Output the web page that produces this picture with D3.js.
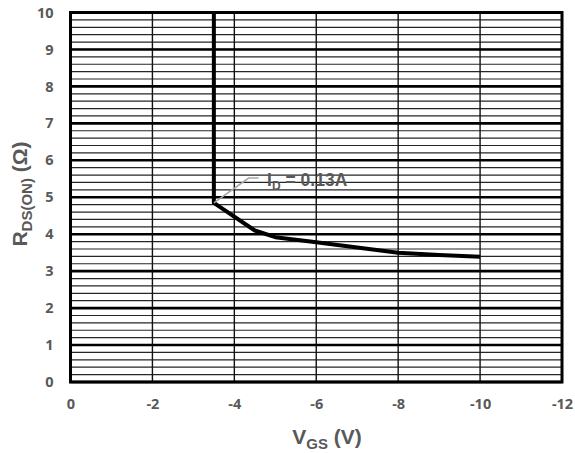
<!DOCTYPE html>
<html>
<head>
<meta charset="utf-8">
<script src="https://cdn.jsdelivr.net/npm/d3@7"></script>
<style>
  body { margin: 0; background: #fff; }
  svg text { font-family: "Liberation Sans", Arial, sans-serif; font-weight: bold; fill: #595959; }
  .tick text { font-family: "Open Sans", Lato, sans-serif; font-weight: 700; }
</style>
</head>
<body>
<div id="root"></div>
<script>
const w = 575;
const h = 453;
const margin = { top: 12.5, bottom: 71, left: 70.5, right: 13 };

// R_DS(ON) vs V_GS, I_D = 0.13A
const vgs = [-3.5, -3.5, -4.5, -5, -6, -7, -8, -9, -10];
const rds = [10, 4.85, 4.1, 3.92, 3.78, 3.64, 3.5, 3.44, 3.39];

const xTicks = [0, -2, -4, -6, -8, -10, -12];
const yTicks = [0, 1, 2, 3, 4, 5, 6, 7, 8, 9, 10];
const yMinor = d3.range(0, 10.01, 0.2);

const xScale = d3.scaleLinear()
    .domain([0, -12])
    .range([margin.left, w - margin.right]);

const yScale = d3.scaleLinear()
    .domain([0, 10])
    .range([h - margin.bottom, margin.top]);

const svg = d3.select("#root")
    .append("svg")
    .attr("width", w)
    .attr("height", h);

// minor horizontal grid
svg.append("g")
    .selectAll("line")
    .data(yMinor)
    .enter()
    .append("line")
    .attr("x1", margin.left)
    .attr("x2", w - margin.right)
    .attr("y1", d => yScale(d))
    .attr("y2", d => yScale(d))
    .attr("stroke", "#262626")
    .attr("stroke-width", 1.2);

// vertical grid
svg.append("g")
    .selectAll("line")
    .data(xTicks)
    .enter()
    .append("line")
    .attr("x1", d => xScale(d))
    .attr("x2", d => xScale(d))
    .attr("y1", margin.top)
    .attr("y2", h - margin.bottom)
    .attr("stroke", "#111")
    .attr("stroke-width", 1.4);

// major horizontal grid
svg.append("g")
    .selectAll("line")
    .data(yTicks)
    .enter()
    .append("line")
    .attr("x1", margin.left)
    .attr("x2", w - margin.right)
    .attr("y1", d => yScale(d))
    .attr("y2", d => yScale(d))
    .attr("stroke", "#000")
    .attr("stroke-width", 2.6);

// plot border
svg.append("rect")
    .attr("x", margin.left)
    .attr("y", margin.top)
    .attr("width", w - margin.left - margin.right)
    .attr("height", h - margin.top - margin.bottom)
    .attr("fill", "none")
    .attr("stroke", "#000")
    .attr("stroke-width", 3);

// axes (labels only)
const xAxis = d3.axisBottom(xScale).tickValues(xTicks).tickFormat(d => String(d)).tickSize(0).tickPadding(17);
svg.append("g")
    .attr("transform", "translate(0," + (h - margin.bottom) + ")")
    .call(xAxis)
    .call(g => g.select(".domain").remove())
    .selectAll("text")
    .style("font-size", "14.5px");

const yAxis = d3.axisLeft(yScale).tickValues(yTicks).tickFormat(d => String(d)).tickSize(0).tickPadding(17);
svg.append("g")
    .attr("transform", "translate(" + margin.left + ",0)")
    .call(yAxis)
    .call(g => g.select(".domain").remove())
    .selectAll("text")
    .style("font-size", "14.5px");

// curve
const line = d3.line()
    .x((d, i) => xScale(vgs[i]))
    .y((d, i) => yScale(rds[i]));

svg.append("path")
    .datum(vgs)
    .attr("d", line)
    .attr("fill", "none")
    .attr("stroke", "#000")
    .attr("stroke-width", 4)
    .attr("stroke-linejoin", "round");

// annotation
const leader = [[-3.5, 4.85], [-4.35, 5.52], [-4.59, 5.52]];
svg.append("path")
    .attr("d", d3.line().x(d => xScale(d[0])).y(d => yScale(d[1]))(leader))
    .attr("fill", "none")
    .attr("stroke", "#a6a6a6")
    .attr("stroke-width", 1.5);

const ann = svg.append("text")
    .attr("x", xScale(-4.8))
    .attr("y", yScale(5.3))
    .style("font-size", "17.5px");
ann.append("tspan").text("I");
ann.append("tspan").attr("dy", 4).style("font-size", "12px").text("D");
ann.append("tspan").attr("dy", -4).text(" = 0.13A");

// x title
const xt = svg.append("text")
    .attr("x", 327)
    .attr("y", 444)
    .attr("text-anchor", "middle")
    .style("font-size", "21px");
xt.append("tspan").text("V");
xt.append("tspan").attr("dy", 5).style("font-size", "15px").text("GS");
xt.append("tspan").attr("dy", -5).text(" (V)");

// y title
const yt = svg.append("text")
    .attr("transform", "translate(27," + 194 + ") rotate(-90)")
    .attr("text-anchor", "middle")
    .style("font-size", "21px");
yt.append("tspan").text("R");
yt.append("tspan").attr("dy", 5).style("font-size", "15px").text("DS(ON)");
yt.append("tspan").attr("dy", -5).text(" (Ω)");
</script>
</body>
</html>
